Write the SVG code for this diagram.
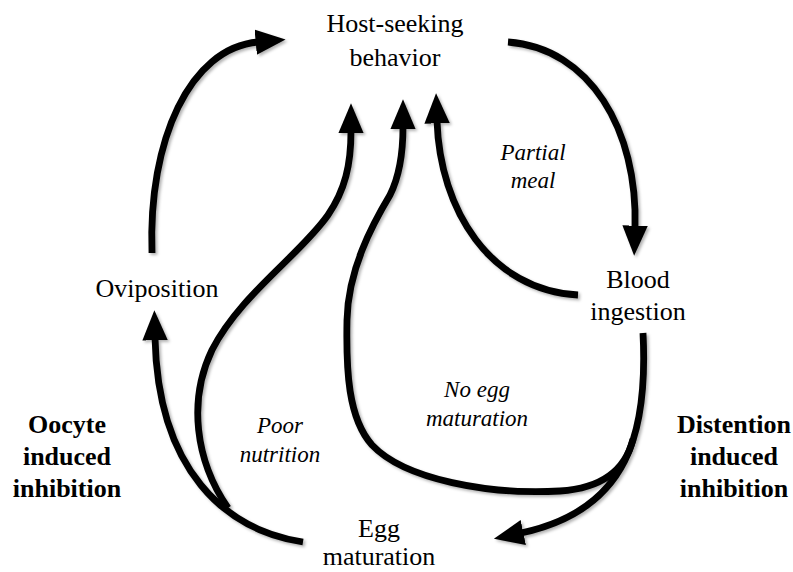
<svg xmlns="http://www.w3.org/2000/svg" width="793" height="572" viewBox="0 0 793 572">
<defs>
<marker id="ah" markerUnits="userSpaceOnUse" markerWidth="30" markerHeight="26" viewBox="0 0 26 22" refX="2" refY="11" orient="auto">
<path d="M0,0 L26,11 L0,22 z" fill="#000"/>
</marker>
<filter id="sh" x="-10%" y="-10%" width="130%" height="130%">
<feDropShadow dx="2" dy="2" stdDeviation="1.5" flood-color="#000" flood-opacity="0.3"/>
</filter>
<style>
.c{fill:none;stroke:#000;stroke-width:6.8;stroke-linecap:butt;marker-end:url(#ah)}
text{font-family:'Liberation Serif','Times New Roman',Times,'DejaVu Serif',serif;fill:#000;text-anchor:middle}
.t{font-size:26px}
.i{font-size:23px;font-style:italic}
.b{font-size:26px;font-weight:bold}
</style>
</defs>
<rect width="793" height="572" fill="#fff"/>
<g id="connectors" filter="url(#sh)">
<path class="c" d="M152,253 C148,140 190,48 258,42"/>
<path class="c" d="M508,42 C590,48 638,130 635,228"/>
<path class="c" d="M578,295 C490,290 440,210 437,121"/>
<path class="c" d="M228,508 C195,460 188,400 212,350 C240,295 300,255 328,215 C345,190 351,165 351,131"/>
<path class="c" d="M633,439 C626,468 605,488 560,491 C490,495 405,480 372,445 C348,418 346,370 347,320 C348,270 372,225 390,195 C400,175 403,150 403,127"/>
<path class="c" d="M303,542 C225,530 158,470 155,338"/>
<path class="c" d="M643,333 C648,430 630,510 521,533"/>
</g>
<g id="host-seeking"><text class="t" x="395" y="32">Host-seeking</text><text class="t" x="395" y="66">behavior</text></g>
<g id="blood-ingestion"><text class="t" x="638" y="288">Blood</text><text class="t" x="638" y="320">ingestion</text></g>
<g id="oviposition"><text class="t" x="157" y="297">Oviposition</text></g>
<g id="egg-maturation"><text class="t" x="379" y="537">Egg</text><text class="t" x="379" y="565">maturation</text></g>
<g id="partial-meal"><text class="i" x="533" y="160">Partial</text><text class="i" x="533" y="188">meal</text></g>
<g id="no-egg"><text class="i" x="477" y="397">No egg</text><text class="i" x="477" y="426">maturation</text></g>
<g id="poor-nutrition"><text class="i" x="280" y="433">Poor</text><text class="i" x="280" y="462">nutrition</text></g>
<g id="oocyte"><text class="b" x="67" y="433">Oocyte</text><text class="b" x="67" y="465">induced</text><text class="b" x="67" y="497">inhibition</text></g>
<g id="distention"><text class="b" x="734" y="433">Distention</text><text class="b" x="734" y="465">induced</text><text class="b" x="734" y="497">inhibition</text></g>
</svg>
